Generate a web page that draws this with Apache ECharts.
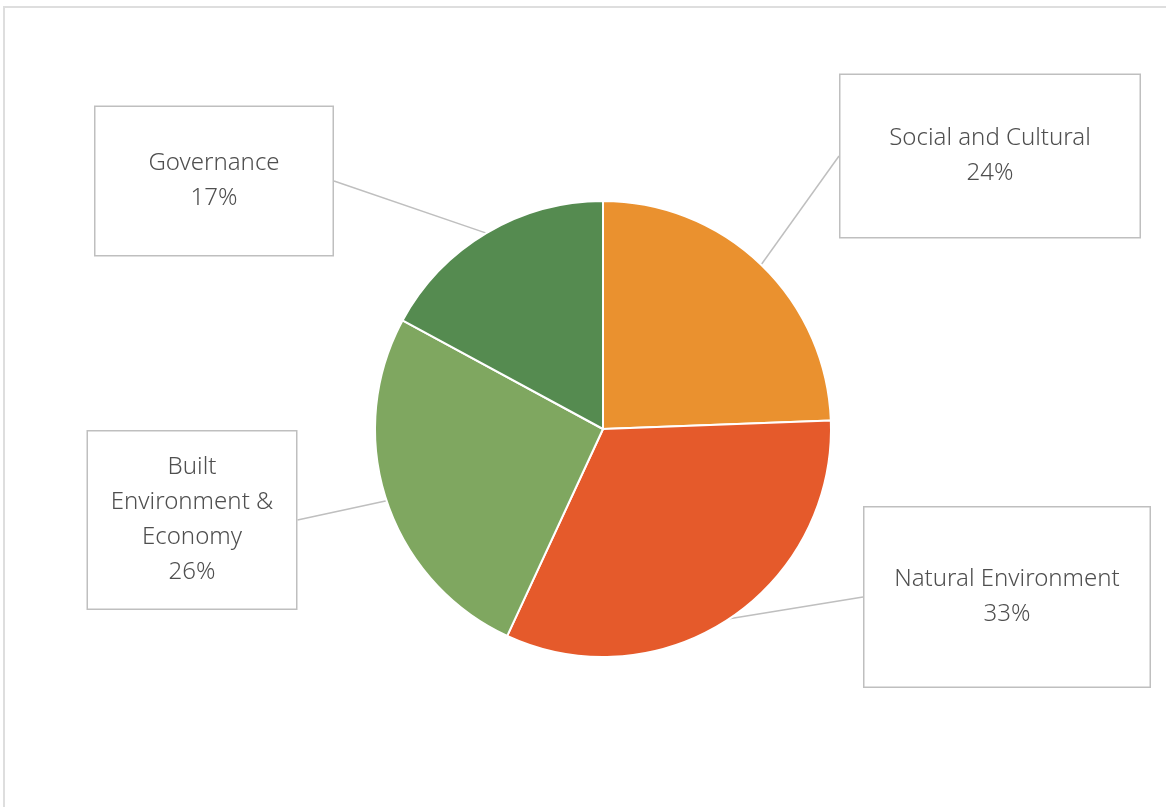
<!DOCTYPE html>
<html>
<head>
<meta charset="utf-8">
<script src="https://cdn.jsdelivr.net/npm/echarts@6/dist/echarts.min.js"></script>
<style>
	html, body { margin: 0; padding: 0; background: #fff; }
	#frame { position: absolute; left: 3px; top: 6px; width: 1200px; height: 900px;
		border-top: 2px solid #dedede; border-left: 2px solid #dedede; box-sizing: border-box; }
	#chart { position: absolute; left: 0; top: 0; width: 1166px; height: 807px; }
</style>
</head>
<body>
<div id="frame"></div>
<div id="chart"></div>
<script>
	// slices, clockwise from 12 o'clock
	var categories = ['Social and Cultural', 'Natural Environment', 'Built Environment & Economy', 'Governance'];
	var labelText = ['Social and Cultural', 'Natural Environment', 'Built\nEnvironment &\nEconomy', 'Governance'];
	var values = [24.4, 32.5, 26.0, 17.1];
	var colors = ['#ea912f', '#e55a2b', '#7fa760', '#558b50'];

	// callout boxes: centre x, centre y, width, height
	var boxes = [
		[990, 156, 299, 162],
		[1007, 597, 285, 179],
		[192, 520, 208, 177],
		[214, 181, 237, 148]
	];
	var lineH = 35;

	var chart = echarts.init(document.getElementById('chart'));

	var seriesData = [];
	categories.forEach(function (name, i) {
		var lines = labelText[i].split('\n').length + 1;
		var vPad = (boxes[i][3] - lines * lineH) / 2;
		seriesData.push({
			name: name,
			value: values[i],
			itemStyle: { color: colors[i] },
			label: {
				formatter: labelText[i] + '\n{d}%',
				width: boxes[i][2],
				padding: [vPad, 0, vPad, 0]
			}
		});
	});

	var option = {
		backgroundColor: 'transparent',
		animation: false,
		series: [
			{
				type: 'pie',
				center: [603, 429],
				radius: 228,
				startAngle: 90,
				clockwise: true,
				percentPrecision: 0,
				avoidLabelOverlap: false,
				itemStyle: {
					borderColor: '#fff',
					borderWidth: 2
				},
				label: {
					show: true,
					position: 'outside',
					fontFamily: 'Noto Sans',
					fontWeight: 300,
					fontSize: 24,
					lineHeight: lineH,
					color: '#4f4f4f',
					align: 'center',
					backgroundColor: '#fff',
					borderColor: '#bfbfbf',
					borderWidth: 1.5
				},
				labelLine: {
					show: true,
					length: 20,
					length2: 0,
					lineStyle: { color: '#bfbfbf', width: 1.5 }
				},
				labelLayout: function (params) {
					var b = boxes[params.dataIndex];
					return {
						x: b[0],
						y: b[1],
						align: 'center',
						verticalAlign: 'middle'
					};
				},
				data: seriesData
			}
		]
	};
	chart.setOption(option);
</script>
</body>
</html>
